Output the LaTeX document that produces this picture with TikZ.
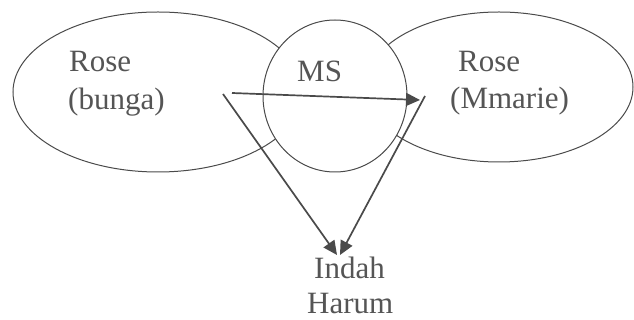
\documentclass[tikz,border=0pt]{standalone}
\usepackage{fontspec}
\setmainfont{Liberation Serif}
\usetikzlibrary{shapes.geometric,arrows.meta}
\definecolor{ln}{HTML}{4A4A4A}
\definecolor{tx}{HTML}{555555}
\begin{document}
\begin{tikzpicture}[x=1pt,y=-1pt,
  setshape/.style={draw=ln, line width=1pt, ellipse, inner sep=0pt, outer sep=0pt},
  lbl/.style={text=tx, font=\fontsize{31}{38}\selectfont, inner sep=0pt, anchor=base west},
  arr/.style={draw=ln, line width=1.7pt, -{Triangle[length=14pt,width=13pt]}}]
\useasboundingbox[fill=white] (0,0) rectangle (634,320);
% sets
\node[setshape, minimum width=290pt, minimum height=160pt] (bunga) at (158,92) {};
\node[setshape, minimum width=268pt, minimum height=150pt] (mmarie) at (499,87) {};
\node[setshape, fill=white, minimum width=144pt, minimum height=152pt] (ms) at (335,96) {};
% labels
\node[lbl] (roseL) at (69,72) {Rose};
\node[lbl] (bungaL) at (68,110) {(bunga)};
\node[lbl] (msL) at (297,82) {MS};
\node[lbl] (roseR) at (458,72) {Rose};
\node[lbl] (mmarieL) at (450,109) {(Mmarie)};
\node[lbl] (indah) at (314,278) {Indah};
\node[lbl] (harum) at (307,313) {Harum};
% connector ends
\coordinate (p1) at (232,93);
\coordinate (q1) at (420,100);
\coordinate (p2) at (223,94);
\coordinate (p3) at (425,96);
\coordinate (t2) at (337,255);
\coordinate (t3) at (340,255);
% connectors
\draw[arr] (p1) -- (q1);
\draw[arr] (p2) -- (t2);
\draw[arr] (p3) -- (t3);
\end{tikzpicture}
\end{document}
